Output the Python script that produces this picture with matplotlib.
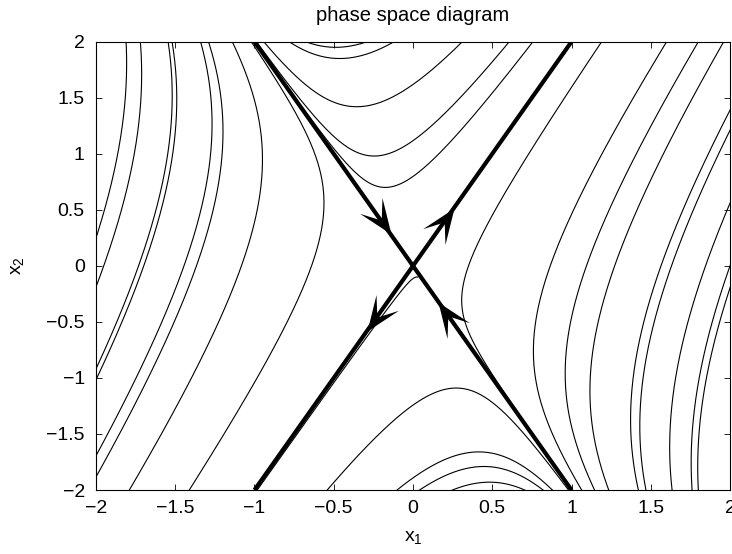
import numpy as np
import matplotlib
matplotlib.use("Agg")
import matplotlib.pyplot as plt
from matplotlib.path import Path
from matplotlib.markers import MarkerStyle
from matplotlib.transforms import Affine2D

plt.rcParams['font.family'] = ['Liberation Sans', 'DejaVu Sans']
plt.rcParams['mathtext.default'] = 'regular'

# linear system  x' = A x  (saddle)
A = np.array([[1.0, 1.0],
              [4.0, 1.0]])

# seed points of the trajectories
# left sector
left_x1 = [-1.81, -1.72, -1.545, -1.52, -1.34, -1.29, -1.14, -0.64]
left_x2 = [2.0, 2.0, 2.0, 2.0, 2.0, 2.0, 2.0, 0.0]
# right sector
right_x1 = [1.19, 1.60, 1.80, 1.96, 2.0, 2.0, 2.0, 2.0, 1.80]
right_x2 = [2.0, 2.0, 2.0, 2.0, 1.39, 1.21, 0.56, 0.0, -2.0]
# top sector (bottom of each arc)
top_x1 = [-0.49, -0.46, -0.36, -0.25, -0.18]
top_x2 = [1.95, 1.85, 1.42, 0.98, 0.70]
# bottom sector (top of each arc)
bot_x1 = [0.27, 0.42, 0.45, 0.48]
bot_x2 = [-1.09, -1.66, -1.79, -1.93]
# one trajectory started close to the origin, forward in time only
near_x1 = [0.03]
near_x2 = [-0.10]

# arrow tips on the eigenvector lines
arrow_x1 = [-0.14, 0.16, 0.26, -0.29]
arrow_x2 = [0.28, -0.32, 0.52, -0.58]

xticks = [-2, -1.5, -1, -0.5, 0, 0.5, 1, 1.5, 2]
xticklabels = ['\u22122', '\u22121.5', '\u22121', '\u22120.5', '0', '0.5', '1', '1.5', '2']
yticks = [-2, -1.5, -1, -0.5, 0, 0.5, 1, 1.5, 2]
yticklabels = ['\u22122', '\u22121.5', '\u22121', '\u22120.5', '0', '0.5', '1', '1.5', '2']

lam, V = np.linalg.eig(A)
Vinv = np.linalg.inv(V)


def trajectory(x0, t):
    c = Vinv @ np.asarray(x0)
    X = (V[:, None, :] * (np.exp(np.outer(t, lam)) * c)[None, :, :]).sum(axis=2)
    X = X.real
    out = np.abs(X).max(axis=0) > 2.6
    X[:, out] = np.nan
    return X


fig = plt.figure(figsize=(7.32, 5.54), dpi=100)
ax = fig.add_axes([0.1311, 0.1155, 0.8662, 0.8092])

t_both = np.linspace(-3, 3, 12001)
t_fwd = np.linspace(0, 3, 6001)

seeds = list(zip(left_x1 + right_x1 + top_x1 + bot_x1,
                 left_x2 + right_x2 + top_x2 + bot_x2))
for s in seeds:
    X = trajectory(s, t_both)
    ax.plot(X[0], X[1], color='k', lw=0.8)
for s in zip(near_x1, near_x2):
    X = trajectory(s, t_fwd)
    ax.plot(X[0], X[1], color='k', lw=0.8)

# eigenvector lines
for k in range(2):
    v = V[:, k].real
    v = v * 2.0 / abs(v[1])
    ax.plot([-v[0], v[0]], [-v[1], v[1]], color='k', lw=3.0, solid_capstyle='butt')

ax.set_xlim(-2, 2)
ax.set_ylim(-2, 2)
ax.set_xticks(xticks)
ax.set_xticklabels(xticklabels)
ax.set_yticks(yticks)
ax.set_yticklabels(yticklabels)
ax.tick_params(direction='in', length=4.5, width=0.6, top=True, right=True,
               labelsize=14)
ax.tick_params(axis='x', pad=7)
ax.tick_params(axis='y', pad=8)
for sp in ax.spines.values():
    sp.set_linewidth(0.8)

ax.set_title('phase space diagram', fontsize=14.5, pad=15)
ax.set_xlabel('x$_1$', fontsize=14, labelpad=9)
ax.set_ylabel('x$_2$', fontsize=14, labelpad=15)

# stealth-style arrow heads pointing along the flow
head = Path([(0, 0), (-35, 13.7), (-17, 0), (-35, -13.7), (0, 0)],
            [Path.MOVETO, Path.LINETO, Path.LINETO, Path.LINETO, Path.CLOSEPOLY])
for x, y in zip(arrow_x1, arrow_x2):
    vel = A @ np.array([x, y])
    p0 = ax.transData.transform((x, y))
    p1 = ax.transData.transform((x + 1e-3 * vel[0], y + 1e-3 * vel[1]))
    ang = np.degrees(np.arctan2(p1[1] - p0[1], p1[0] - p0[0]))
    m = MarkerStyle(head, transform=Affine2D().rotate_deg(ang))
    ax.plot([x], [y], linestyle='none', marker=m, markersize=50.4,
            color='k', markeredgewidth=0)

fig.savefig('out.png', dpi=100)
